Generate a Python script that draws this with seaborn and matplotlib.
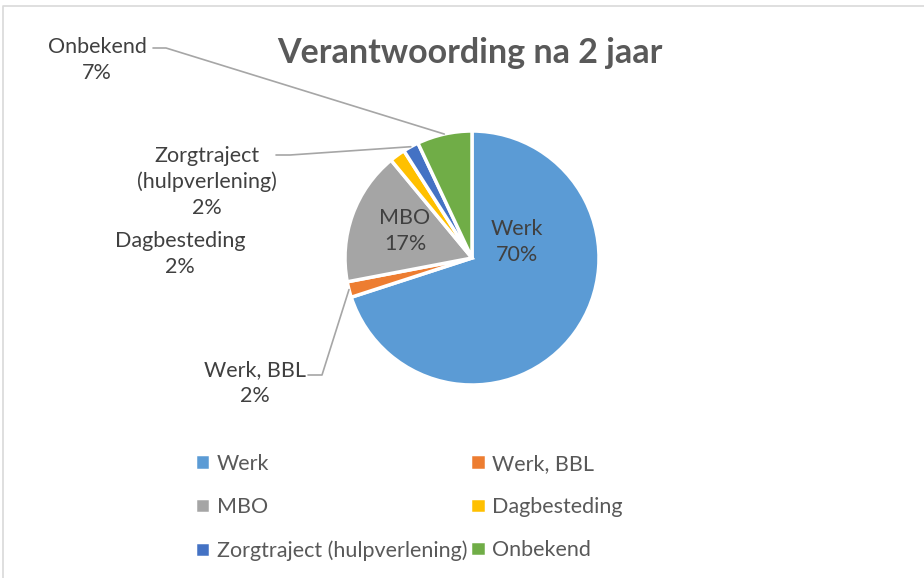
import matplotlib
matplotlib.use("Agg")
import matplotlib.pyplot as plt
from matplotlib.lines import Line2D
import numpy as np
import seaborn as sns

categories = ["Werk", "Werk, BBL", "MBO", "Dagbesteding",
              "Zorgtraject (hulpverlening)", "Onbekend"]
percentages = [70, 2, 17, 2, 2, 7]
label_names = ["Werk", "Werk, BBL", "MBO", "Dagbesteding",
               "Zorgtraject\n(hulpverlening)", "Onbekend"]
colors = ["#5B9BD5", "#ED7D31", "#A5A5A5", "#FFC000", "#4472C4", "#70AD47"]

W, H = 924, 578
sns.set_theme(style="white")
plt.rcParams["font.family"] = ["Lato", "DejaVu Sans"]

fig = plt.figure(figsize=(W / 100, H / 100), dpi=100)


def px(x, y):
    """pixel position (top-left origin) -> figure fraction"""
    return x / W, 1 - y / H


# pie centred at (472, 258) px, radius 127 px
cx, cy, r = 472, 258, 127
ax = fig.add_axes([(cx - r) / W, (H - cy - r) / H, 2 * r / W, 2 * r / H])
wedges, _ = ax.pie(percentages, colors=sns.color_palette(colors),
                   startangle=90, counterclock=False,
                   wedgeprops=dict(edgecolor="white", linewidth=2.5))
ax.set_xlim(-1, 1)
ax.set_ylim(-1, 1)
ax.set_aspect("equal")

fig.text(*px(470, 53), "Verantwoording na 2 jaar", ha="center", va="center",
         fontsize=24.5, fontweight="bold", color="#595959")

label_color = "#404040"
lab_size = 15.5
# label text centres (px) for each slice
label_pos = {
    "Werk": (517, 242),
    "Werk, BBL": (255, 383),
    "MBO": (405, 231),
    "Dagbesteding": (180, 254),
    "Zorgtraject (hulpverlening)": (207, 182),
    "Onbekend": (97, 60),
}
for cat, name, pct in zip(categories, label_names, percentages):
    x, y = label_pos[cat]
    fig.text(*px(x, y), f"{name}\n{pct}%", ha="center", va="center",
             fontsize=lab_size, color=label_color, linespacing=1.33)


def wedge_point(w, frac=1.0):
    th = np.deg2rad((w.theta1 + w.theta2) / 2)
    return frac * np.cos(th), frac * np.sin(th)


def leader(w, pts):
    fig.canvas.draw()
    xd, yd = ax.transData.transform(wedge_point(w))
    end = (xd / W, yd / H)
    xs = [px(*p)[0] for p in pts] + [end[0]]
    ys = [px(*p)[1] for p in pts] + [end[1]]
    fig.add_artist(Line2D(xs, ys, color="#A6A6A6", lw=1.2,
                          transform=fig.transFigure))


leader(wedges[5], [(153, 48), (166, 48)])
leader(wedges[4], [(276, 155), (290, 155)])
leader(wedges[1], [(308, 375), (322, 375)])

# legend, filled row by row
order = [0, 2, 4, 1, 3, 5]
fig.legend([wedges[i] for i in order], [categories[i] for i in order],
           loc="upper left", bbox_to_anchor=px(186, 445), ncol=2,
           frameon=False, fontsize=lab_size, labelcolor="#595959",
           handlelength=0.72, handleheight=0.72, handletextpad=0.3,
           columnspacing=0.15, labelspacing=1.08, borderaxespad=0)

# chart border (partly cropped)
fig.add_artist(Line2D([3 / W, 3 / W, 1], [0, 1 - 6 / H, 1 - 6 / H],
                      color="#D9D9D9", lw=1.2, transform=fig.transFigure))

fig.savefig("out.png", dpi=100, facecolor="white")
